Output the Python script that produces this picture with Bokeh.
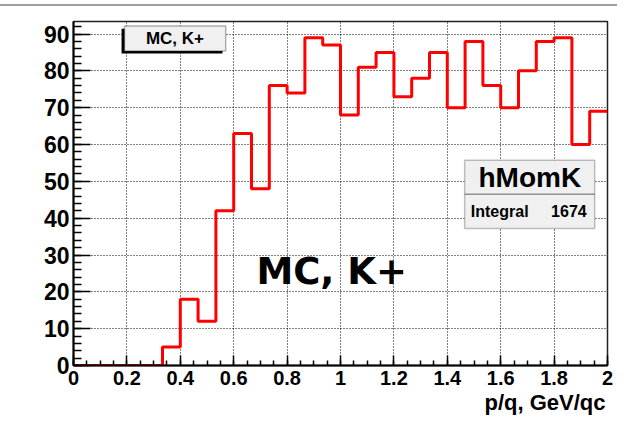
from bokeh.plotting import figure
from bokeh.models import Range1d, FixedTicker, Label, BoxAnnotation, Title, Div
from bokeh.layouts import column
from bokeh.embed import file_html
from bokeh.resources import INLINE

# Histogram hMomK: 30 bins over p/q in [0, 2] GeV/qc
x_min, x_max, n_bins = 0.0, 2.0, 30
counts = [0, 0, 0, 0, 0, 5, 18, 12, 42, 63,
          48, 76, 74, 89, 87, 68, 81, 85, 73, 78,
          85, 70, 88, 76, 70, 80, 88, 89, 60, 69]
x_ticks = [0, 0.2, 0.4, 0.6, 0.8, 1, 1.2, 1.4, 1.6, 1.8, 2]
y_ticks = [0, 10, 20, 30, 40, 50, 60, 70, 80, 90]
hist_name = "hMomK"
hist_title = "MC, K+"
x_title = "p/q, GeV/qc"

bin_w = (x_max - x_min) / n_bins
edges = [x_min + i * bin_w for i in range(n_bins + 1)]
step_y = counts + [counts[-1]]
integral = sum(counts)

FONT = "Liberation Sans"
TOP_STRIP = 8

# thin grey rule along the top of the canvas
rule = Div(text="", width=617, height=2, margin=(4, 0, 2, 0),
           styles={"background-color": "#a0a0a0"})

p = figure(width=636, height=422 - TOP_STRIP,
           x_range=Range1d(x_min, x_max), y_range=Range1d(0, 93.4),
           output_backend="svg", toolbar_location=None,
           min_border_left=73, min_border_right=29,
           min_border_top=21 - TOP_STRIP, min_border_bottom=57,
           margin=(0, 0, 0, 0))

p.background_fill_color = "white"
p.border_fill_color = "white"
p.outline_line_color = "#222222"
p.outline_line_width = 1.5

# axes, ROOT style: ticks inside the frame
for ax in p.xaxis:
    ax.ticker = FixedTicker(ticks=x_ticks, minor_ticks=[i * 0.05 for i in range(41)])
    ax.major_tick_in = 10
    ax.major_tick_out = 0
    ax.minor_tick_in = 5
    ax.minor_tick_out = 0
    ax.major_label_text_font = FONT
    ax.major_label_text_font_style = "bold"
    ax.major_label_text_font_size = "20px"
    ax.major_label_text_color = "black"
    ax.major_label_standoff = 5
    ax.axis_line_width = 2
    ax.major_tick_line_width = 1.5
    ax.minor_tick_line_width = 1.5
    ax.major_label_overrides = {0: "0", 1: "1", 2: "2"}

for ax in p.yaxis:
    ax.ticker = FixedTicker(ticks=y_ticks, minor_ticks=[i * 2 for i in range(47)])
    ax.major_tick_in = 17
    ax.major_tick_out = 0
    ax.minor_tick_in = 8
    ax.minor_tick_out = 0
    ax.major_label_text_font = FONT
    ax.major_label_text_font_style = "bold"
    ax.major_label_text_font_size = "23px"
    ax.major_label_text_color = "black"
    ax.major_label_standoff = 4
    ax.axis_line_width = 2
    ax.major_tick_line_width = 1.5
    ax.minor_tick_line_width = 1.5

for g in (p.xgrid, p.ygrid):
    g.grid_line_color = "black"
    g.grid_line_dash = "1 2"
    g.grid_line_width = 1

# histogram outline
p.step(x=edges, y=step_y, mode="after", line_color="#ff0000", line_width=3)

# title box with shadow
p.add_layout(BoxAnnotation(left=0.180, right=0.558, top=91.4, bottom=84.7,
                           fill_color="black", fill_alpha=1, line_alpha=0))
p.add_layout(BoxAnnotation(left=0.191, right=0.570, top=92.2, bottom=85.4,
                           fill_color="#f0f0f0", fill_alpha=1,
                           line_color="black", line_width=1.5))
p.add_layout(Label(x=0.380, y=88.8, text=hist_title, text_align="center",
                   text_baseline="middle", text_font=FONT, text_color="black",
                   text_font_style="bold", text_font_size="17px"))

# statistics box
p.add_layout(BoxAnnotation(left=1.465, right=1.952, top=55.7, bottom=37.2,
                           fill_color="#f0f0f0", fill_alpha=1,
                           line_color="#333333", line_width=1.5))
p.add_layout(BoxAnnotation(left=1.465, right=1.952, top=46.65, bottom=46.45,
                           fill_color="#333333", fill_alpha=1, line_alpha=0))
p.add_layout(Label(x=1.709, y=51.0, text=hist_name, text_align="center",
                   text_baseline="middle", text_font=FONT, text_color="black",
                   text_font_style="bold", text_font_size="28px"))
p.add_layout(Label(x=1.488, y=41.9, text="Integral", text_align="left",
                   text_baseline="middle", text_font=FONT, text_color="black",
                   text_font_style="bold", text_font_size="16px"))
p.add_layout(Label(x=1.922, y=41.9, text=str(integral), text_align="right",
                   text_baseline="middle", text_font=FONT, text_color="black",
                   text_font_style="bold", text_font_size="16px"))

# large caption inside the frame
p.add_layout(Label(x=0.967, y=25.5, text=hist_title, text_align="center",
                   text_baseline="middle", text_font="DejaVu Sans",
                   text_color="black",
                   text_font_style="bold", text_font_size="37px"))

# x-axis title, right-aligned under the axis
p.add_layout(Title(text=x_title, align="right", offset=2, standoff=0,
                   text_font=FONT, text_font_style="bold", text_color="black",
                   text_font_size="22px"), "below")

layout = column(rule, p, spacing=0)
open("out.html", "w").write(file_html(layout, INLINE))
